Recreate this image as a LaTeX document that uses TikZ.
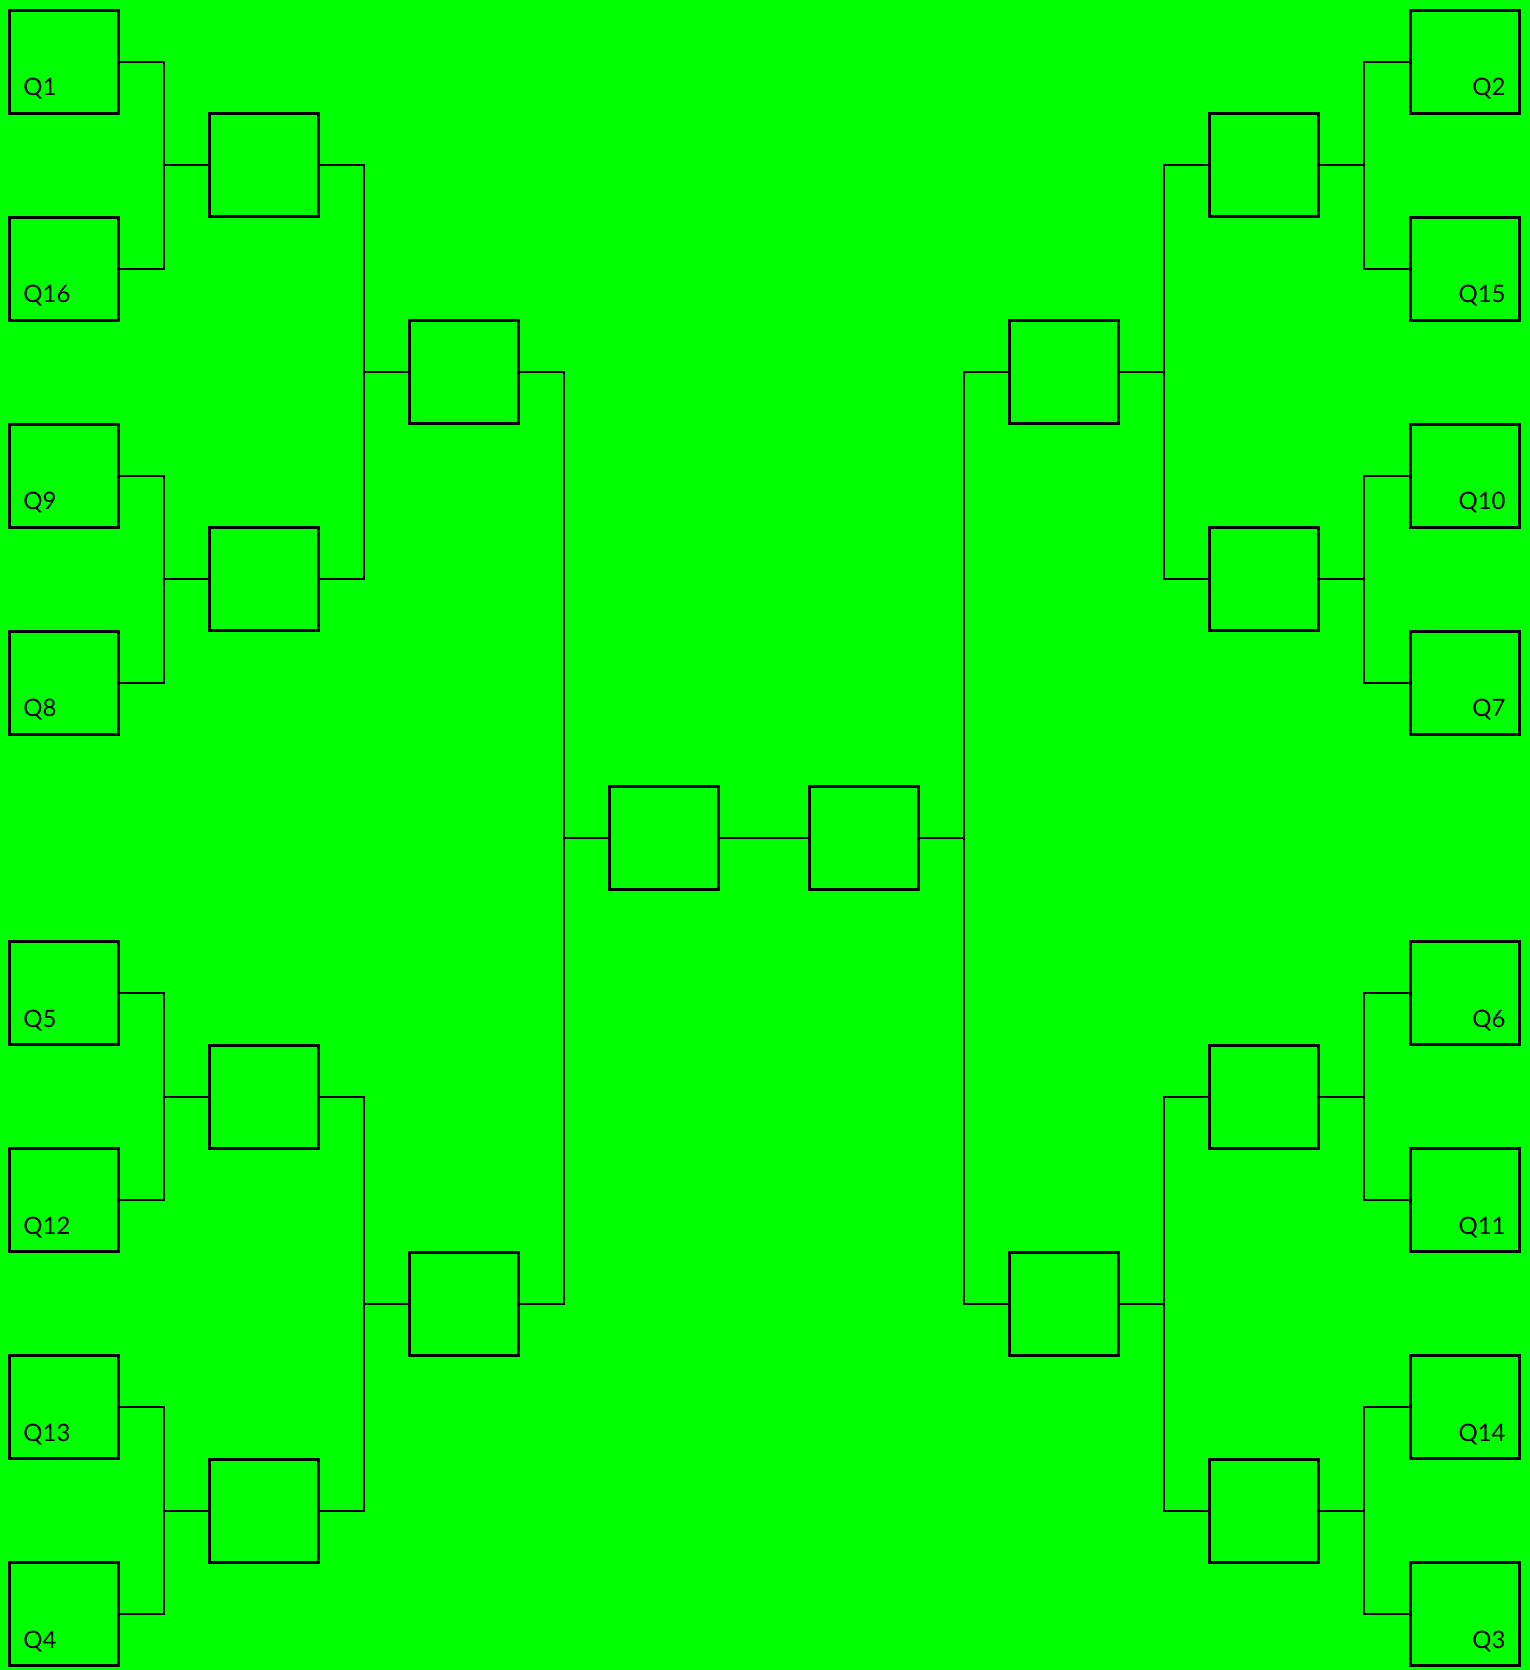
\documentclass[tikz,border=0pt]{standalone}
\usepackage{fontspec}
\setmainfont{Lato}
\usepackage{tikz}
\usetikzlibrary{positioning}
\definecolor{bggreen}{RGB}{0, 255, 0}

\begin{document}
\begin{tikzpicture}[x=0.5pt, y=-0.5pt,
    box/.style={draw, line width=1.5pt, minimum width=54.5pt, minimum height=51.5pt, inner sep=0pt},
    wire/.style={line width=1pt},
    qname/.style={font=\fontsize{12}{14}\selectfont, inner sep=0pt}]
  \fill[bggreen] (0,0) rectangle (1530,1670);
  \useasboundingbox (0,0) rectangle (1530,1670);

  % Left leaves
  \node[box] (q1)  at (64, 61.5)  {};
  \node[box] (q16) at (64, 268.5) {};
  \node[box] (q9)  at (64, 475.5) {};
  \node[box] (q8)  at (64, 682.5) {};
  \node[box] (q5)  at (64, 993)   {};
  \node[box] (q12) at (64, 1200)  {};
  \node[box] (q13) at (64, 1407)  {};
  \node[box] (q4)  at (64, 1614)  {};

  % Right leaves
  \node[box] (q2)  at (1465, 61.5)  {};
  \node[box] (q15) at (1465, 268.5) {};
  \node[box] (q10) at (1465, 475.5) {};
  \node[box] (q7)  at (1465, 682.5) {};
  \node[box] (q6)  at (1465, 993)   {};
  \node[box] (q11) at (1465, 1200)  {};
  \node[box] (q14) at (1465, 1407)  {};
  \node[box] (q3)  at (1465, 1614)  {};

  % Leaf names
  \node[qname, anchor=base west] (t1)  at ([xshift=7.5pt, yshift=9.5pt]q1.south west)  {Q1};
  \node[qname, anchor=base west] (t16) at ([xshift=7.5pt, yshift=9.5pt]q16.south west) {Q16};
  \node[qname, anchor=base west] (t9)  at ([xshift=7.5pt, yshift=9.5pt]q9.south west)  {Q9};
  \node[qname, anchor=base west] (t8)  at ([xshift=7.5pt, yshift=9.5pt]q8.south west)  {Q8};
  \node[qname, anchor=base west] (t5)  at ([xshift=7.5pt, yshift=9.5pt]q5.south west)  {Q5};
  \node[qname, anchor=base west] (t12) at ([xshift=7.5pt, yshift=9.5pt]q12.south west) {Q12};
  \node[qname, anchor=base west] (t13) at ([xshift=7.5pt, yshift=9.5pt]q13.south west) {Q13};
  \node[qname, anchor=base west] (t4)  at ([xshift=7.5pt, yshift=9.5pt]q4.south west)  {Q4};
  \node[qname, anchor=base east] (t2)  at ([xshift=-7.5pt, yshift=9.5pt]q2.south east)  {Q2};
  \node[qname, anchor=base east] (t15) at ([xshift=-7.5pt, yshift=9.5pt]q15.south east) {Q15};
  \node[qname, anchor=base east] (t10) at ([xshift=-7.5pt, yshift=9.5pt]q10.south east) {Q10};
  \node[qname, anchor=base east] (t7)  at ([xshift=-7.5pt, yshift=9.5pt]q7.south east)  {Q7};
  \node[qname, anchor=base east] (t6)  at ([xshift=-7.5pt, yshift=9.5pt]q6.south east)  {Q6};
  \node[qname, anchor=base east] (t11) at ([xshift=-7.5pt, yshift=9.5pt]q11.south east) {Q11};
  \node[qname, anchor=base east] (t14) at ([xshift=-7.5pt, yshift=9.5pt]q14.south east) {Q14};
  \node[qname, anchor=base east] (t3)  at ([xshift=-7.5pt, yshift=9.5pt]q3.south east)  {Q3};

  % Second round
  \node[box] (l2a) at (264, 165)    {};
  \node[box] (l2b) at (264, 579)    {};
  \node[box] (l2c) at (264, 1096.5) {};
  \node[box] (l2d) at (264, 1510.5) {};
  \node[box] (r2a) at (1264, 165)    {};
  \node[box] (r2b) at (1264, 579)    {};
  \node[box] (r2c) at (1264, 1096.5) {};
  \node[box] (r2d) at (1264, 1510.5) {};

  % Third round
  \node[box] (l3a) at (464, 372)    {};
  \node[box] (l3b) at (464, 1303.5) {};
  \node[box] (r3a) at (1064, 372)    {};
  \node[box] (r3b) at (1064, 1303.5) {};

  % Final pair
  \node[box] (fl) at (664, 837.75) {};
  \node[box] (fr) at (864, 837.75) {};

  % Junction points
  \coordinate[left=22pt of l2a] (jl2a);
  \coordinate[left=22pt of l2b] (jl2b);
  \coordinate[left=22pt of l2c] (jl2c);
  \coordinate[left=22pt of l2d] (jl2d);
  \coordinate[left=22pt of l3a] (jl3a);
  \coordinate[left=22pt of l3b] (jl3b);
  \coordinate[left=22pt of fl]  (jfl);
  \coordinate[right=22pt of r2a] (jr2a);
  \coordinate[right=22pt of r2b] (jr2b);
  \coordinate[right=22pt of r2c] (jr2c);
  \coordinate[right=22pt of r2d] (jr2d);
  \coordinate[right=22pt of r3a] (jr3a);
  \coordinate[right=22pt of r3b] (jr3b);
  \coordinate[right=22pt of fr]  (jfr);

  % Left brackets
  \draw[wire] (q1.east)  -| (jl2a) |- (q16.east);
  \draw[wire] (jl2a) -- (l2a.west);
  \draw[wire] (q9.east)  -| (jl2b) |- (q8.east);
  \draw[wire] (jl2b) -- (l2b.west);
  \draw[wire] (q5.east)  -| (jl2c) |- (q12.east);
  \draw[wire] (jl2c) -- (l2c.west);
  \draw[wire] (q13.east) -| (jl2d) |- (q4.east);
  \draw[wire] (jl2d) -- (l2d.west);
  \draw[wire] (l2a.east) -| (jl3a) |- (l2b.east);
  \draw[wire] (jl3a) -- (l3a.west);
  \draw[wire] (l2c.east) -| (jl3b) |- (l2d.east);
  \draw[wire] (jl3b) -- (l3b.west);
  \draw[wire] (l3a.east) -| (jfl) |- (l3b.east);
  \draw[wire] (jfl) -- (fl.west);

  % Right brackets
  \draw[wire] (q2.west)  -| (jr2a) |- (q15.west);
  \draw[wire] (jr2a) -- (r2a.east);
  \draw[wire] (q10.west) -| (jr2b) |- (q7.west);
  \draw[wire] (jr2b) -- (r2b.east);
  \draw[wire] (q6.west)  -| (jr2c) |- (q11.west);
  \draw[wire] (jr2c) -- (r2c.east);
  \draw[wire] (q14.west) -| (jr2d) |- (q3.west);
  \draw[wire] (jr2d) -- (r2d.east);
  \draw[wire] (r2a.west) -| (jr3a) |- (r2b.west);
  \draw[wire] (jr3a) -- (r3a.east);
  \draw[wire] (r2c.west) -| (jr3b) |- (r2d.west);
  \draw[wire] (jr3b) -- (r3b.east);
  \draw[wire] (r3a.west) -| (jfr) |- (r3b.west);
  \draw[wire] (jfr) -- (fr.east);

  % Final link
  \draw[wire] (fl.east) -- (fr.west);
\end{tikzpicture}
\end{document}
